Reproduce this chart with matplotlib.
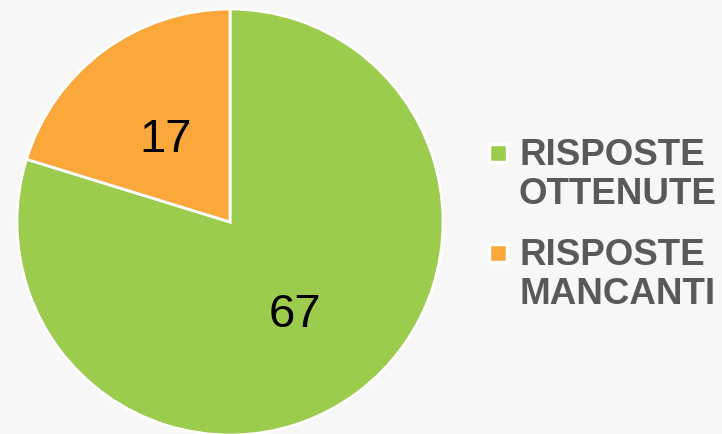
import matplotlib.pyplot as plt
from matplotlib.patches import Rectangle

labels = ['RISPOSTE\nOTTENUTE', 'RISPOSTE\nMANCANTI']
values = [67, 17]
colors = ['#9BCC4E', '#FAA73B']

W, H = 722, 434
fig = plt.figure(figsize=(W / 100, H / 100), dpi=100, facecolor='#F7F7F7')

# pie centre (230, 222) px from top, radius 213 px
cx, cy, r = 230, 222, 213
ax = fig.add_axes([(cx - r) / W, (H - cy - r) / H, 2 * r / W, 2 * r / H])
ax.set_facecolor('none')
wedges, texts = ax.pie(values, colors=colors, startangle=90, counterclock=False,
                       labels=[str(v) for v in values], labeldistance=0.51,
                       textprops=dict(fontsize=34, family='Liberation Sans', color='black'),
                       wedgeprops=dict(edgecolor='white', linewidth=2))
# centre the digits on their cap height
for t in texts:
    x, y = t.get_position()
    t.set_ha('center')
    t.set_va('baseline')
    t.set_position((x, y - 17.5 / r))
ax.set_xlim(-1, 1)
ax.set_ylim(-1, 1)
ax.axis('off')

# legend drawn by hand
for i, (lab, col) in enumerate(zip(labels, colors)):
    ytop = 142 + i * 100
    fig.add_artist(Rectangle(((498 - 9) / W, 1 - (ytop + 11 + 9) / H), 18 / W, 18 / H,
                             facecolor=col, edgecolor='white', linewidth=2.5,
                             transform=fig.transFigure))
    fig.text(519 / W, 1 - (ytop + 33) / H, lab, fontsize=26.5, fontweight='bold',
             family='Liberation Sans', color='#595959', ha='left', va='center',
             linespacing=1.15)

fig.savefig('out.png', dpi=100, facecolor=fig.get_facecolor())
